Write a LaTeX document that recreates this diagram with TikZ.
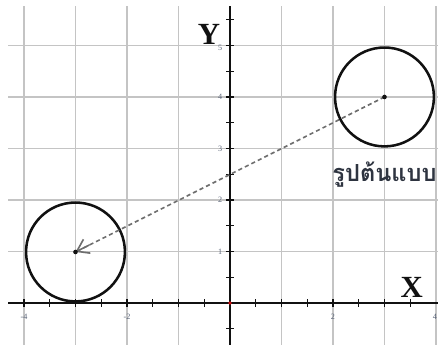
\documentclass[tikz,border=0pt]{standalone}
\usepackage{tikz}
\usetikzlibrary{arrows.meta,positioning,calc}
\usepackage{xcolor}
\usepackage{fontspec}
\setmainfont{Liberation Serif}
\newfontfamily\thaifont[Script=Thai]{Loma}
\definecolor{Ink}{HTML}{111111}
\definecolor{GridGray}{HTML}{C4C4C4}
\definecolor{ArrowGray}{HTML}{6E6E6E}
\definecolor{LabelInk}{HTML}{2E3440}
\definecolor{TickInk}{HTML}{5A6478}
\definecolor{OriginRed}{HTML}{CC1111}

\begin{document}
\begin{tikzpicture}[x=1cm,y=1cm,
  gridline/.style={GridGray,line width=0.8pt},
  axisline/.style={Ink,line width=1.6pt},
  tickmark/.style={Ink,line width=0.6pt},
  ticklabel/.style={font=\fontsize{4.5}{5}\selectfont,text=TickInk,inner sep=0pt},
  shapecircle/.style={circle,draw=Ink,line width=1.4pt,minimum size=1.92cm,inner sep=0pt},
  axislabel/.style={font=\fontsize{17}{19}\selectfont\bfseries,text=Ink,inner sep=0pt}]
\useasboundingbox (-4.466,-0.816) rectangle (4.039,5.883);
% grid
\draw[gridline] (-4,-0.816) -- (-4,5.77);
\draw[gridline] (-3,-0.816) -- (-3,5.77);
\draw[gridline] (-2,-0.816) -- (-2,5.77);
\draw[gridline] (-1,-0.816) -- (-1,5.77);
\draw[gridline] (1,-0.816) -- (1,5.77);
\draw[gridline] (2,-0.816) -- (2,5.77);
\draw[gridline] (3,-0.816) -- (3,5.77);
\draw[gridline] (4,-0.816) -- (4,5.77);
\draw[gridline] (-4.31,1) -- (4.04,1);
\draw[gridline] (-4.31,2) -- (4.04,2);
\draw[gridline] (-4.31,3) -- (4.04,3);
\draw[gridline] (-4.31,4) -- (4.04,4);
\draw[gridline] (-4.31,5) -- (4.04,5);
% axes
\draw[axisline] (-4.31,0) -- (4.04,0);
\draw[axisline] (0,-0.816) -- (0,5.77);
\foreach \t in {-4,-3.5,-3,-2.5,-2,-1.5,-1,-0.5,0.5,1,1.5,2,2.5,3,3.5}
  \draw[tickmark] (\t,-0.07) -- (\t,0.07);
\foreach \t in {-0.5,0.5,1,1.5,2,2.5,3,3.5,4,4.5,5,5.5}
  \draw[tickmark] (-0.07,\t) -- (0.07,\t);
\node[ticklabel] (xm4) at (-4,-0.26) {-4};
\node[ticklabel] (xm2) at (-2,-0.26) {-2};
\node[ticklabel] (xp2) at (2,-0.26) {2};
\node[ticklabel] (xp4) at (3.98,-0.26) {4};
\node[ticklabel] (y1) at (-0.19,1) {1};
\node[ticklabel] (y2) at (-0.19,2) {2};
\node[ticklabel] (y3) at (-0.19,3) {3};
\node[ticklabel] (y4) at (-0.19,4) {4};
\node[ticklabel] (y5) at (-0.19,4.96) {5};
\node[axislabel] (ylab) at (-0.41,5.22) {Y};
\node[axislabel] (xlab) at (3.53,0.30) {X};
% circles
\node[shapecircle] (model) at (3,4) {};
\node[shapecircle] (image) at (-3,0.99) {};
\draw[ArrowGray,line width=0.9pt,dash pattern=on 2.3pt off 1.7pt] (model.center) -- (image.center);
\draw[ArrowGray,line width=0.9pt,-{Straight Barb[length=2.2mm,width=3mm]}] ($(image.center)!0.3cm!(model.center)$) -- (image.center);
\fill[Ink] (model.center) circle (0.045);
\fill[Ink] (image.center) circle (0.045);
\fill[OriginRed] (0,0) circle (0.035);
\node[font=\thaifont\bfseries\fontsize{13}{15}\selectfont,text=LabelInk,inner sep=0pt] (modeltext) at (3.0,2.50) {รูปต้นแบบ};
\end{tikzpicture}
\end{document}
